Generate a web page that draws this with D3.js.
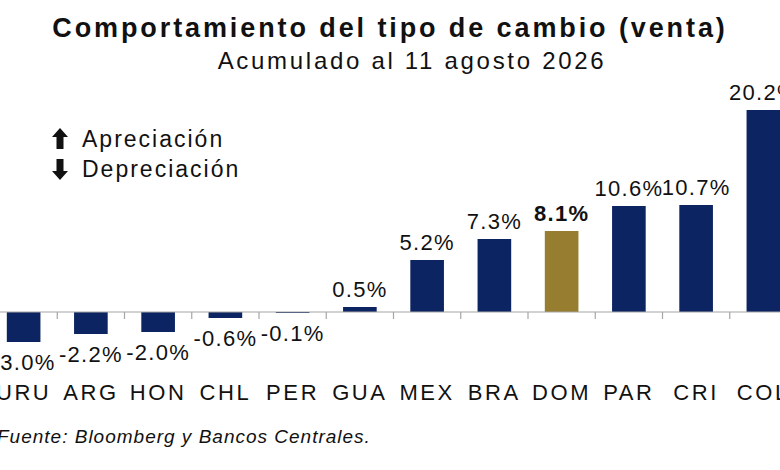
<!DOCTYPE html>
<html>
<head>
<meta charset="utf-8">
<script src="https://cdn.jsdelivr.net/npm/d3@7"></script>
<style>
  body { margin: 0; background: #fff; }
  text { font-family: "Liberation Sans", Arial, sans-serif; fill: #111; }
</style>
</head>
<body>
<script>
// chart data
var countries = ["URU", "ARG", "HON", "CHL", "PER", "GUA", "MEX", "BRA", "DOM", "PAR", "CRI", "COL"];
var values = [-3.0, -2.2, -2.0, -0.6, -0.1, 0.5, 5.2, 7.3, 8.1, 10.6, 10.7, 20.2];
var highlight = ["DOM"];

var width = 780, height = 470;
var navy = "#0c2461", gold = "#977d2f";

var svg = d3.select("body").append("svg")
    .attr("width", width)
    .attr("height", height);

// band scale runs a bit past both edges, like the cropped original
var x = d3.scaleBand()
    .domain(countries)
    .range([-10, 797])
    .paddingInner(0.5)
    .paddingOuter(0.25);
var step = x.step();

var y = d3.scaleLinear()
    .domain([-5, 25])
    .range([362, 62]);

// titles
svg.append("text")
    .attr("x", 390).attr("y", 37)
    .attr("text-anchor", "middle")
    .style("font-size", "27px")
    .style("font-weight", "bold")
    .style("letter-spacing", "2.9px")
    .text("Comportamiento del tipo de cambio (venta)");

svg.append("text")
    .attr("x", 412).attr("y", 69)
    .attr("text-anchor", "middle")
    .style("font-size", "24px")
    .style("letter-spacing", "2.7px")
    .text("Acumulado al 11 agosto 2026");

// bars
svg.selectAll("rect.bar")
    .data(countries)
    .enter().append("rect")
    .attr("class", "bar")
    .attr("x", function(d) { return x(d); })
    .attr("width", x.bandwidth())
    .attr("y", function(d, i) { return y(Math.max(0, values[i])); })
    .attr("height", function(d, i) { return Math.abs(y(values[i]) - y(0)); })
    .attr("fill", function(d) { return highlight.indexOf(d) >= 0 ? gold : navy; });

// zero line with ticks between categories
svg.append("line")
    .attr("x1", 0).attr("x2", width)
    .attr("y1", y(0)).attr("y2", y(0))
    .attr("stroke", "#a6a6a6")
    .attr("stroke-width", 1.2);

svg.selectAll("line.tick")
    .data(countries.slice(1))
    .enter().append("line")
    .attr("class", "tick")
    .attr("x1", function(d) { return x(d) - step * 0.25; })
    .attr("x2", function(d) { return x(d) - step * 0.25; })
    .attr("y1", y(0))
    .attr("y2", y(0) + 7)
    .attr("stroke", "#a6a6a6")
    .attr("stroke-width", 1.2);

// value labels
svg.selectAll("text.val")
    .data(countries)
    .enter().append("text")
    .attr("class", "val")
    .attr("x", function(d) { return x(d) + x.bandwidth() / 2; })
    .attr("y", function(d, i) {
        return values[i] >= 0 ? y(values[i]) - 10 : y(values[i]) + 28;
    })
    .attr("text-anchor", "middle")
    .style("font-size", "22px")
    .style("letter-spacing", "1.3px")
    .style("font-weight", function(d) { return highlight.indexOf(d) >= 0 ? "bold" : "normal"; })
    .text(function(d, i) { return values[i].toFixed(1) + "%"; });

// category labels
svg.selectAll("text.cat")
    .data(countries)
    .enter().append("text")
    .attr("class", "cat")
    .attr("x", function(d) { return x(d) + x.bandwidth() / 2; })
    .attr("y", 400)
    .attr("text-anchor", "middle")
    .style("font-size", "22px")
    .style("letter-spacing", "2.6px")
    .text(function(d) { return d; });

// legend with arrows
var legend = [
    { label: "Apreciación", dir: 1, y: 147 },
    { label: "Depreciación", dir: -1, y: 177 }
];

var lg = svg.selectAll("g.legend")
    .data(legend)
    .enter().append("g")
    .attr("class", "legend")
    .attr("transform", function(d) { return "translate(60," + (d.y - 8) + ")"; });

lg.append("path")
    .attr("d", function(d) {
        var s = d.dir;
        return "M0," + (-11 * s) + " L8," + (-2 * s) + " L3.5," + (-2 * s) +
               " L3.5," + (10 * s) + " L-3.5," + (10 * s) + " L-3.5," + (-2 * s) +
               " L-8," + (-2 * s) + " Z";
    })
    .attr("fill", "#111");

lg.append("text")
    .attr("x", 22).attr("y", 8)
    .style("font-size", "23px")
    .style("letter-spacing", "2px")
    .text(function(d) { return d.label; });

// source note
svg.append("text")
    .attr("x", -3).attr("y", 443)
    .style("font-size", "19px")
    .style("font-style", "italic")
    .style("letter-spacing", "1px")
    .text("Fuente: Bloomberg y Bancos Centrales.");
</script>
</body>
</html>
